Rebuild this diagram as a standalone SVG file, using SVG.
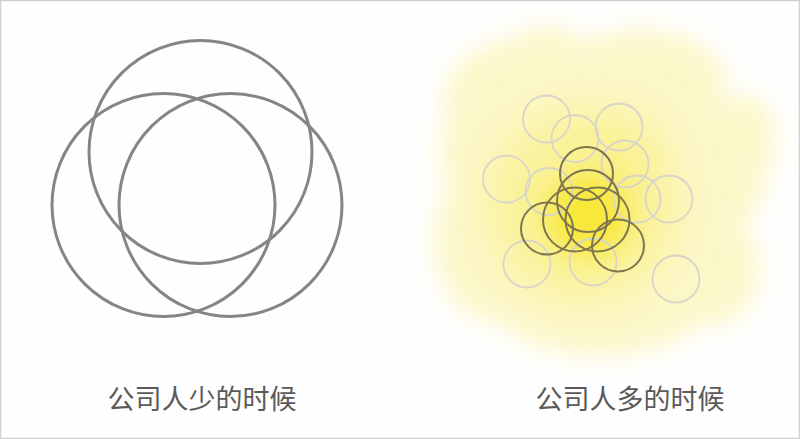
<svg xmlns="http://www.w3.org/2000/svg" width="800" height="439" viewBox="0 0 800 439">
<defs>
<filter id="blurL" x="-30%" y="-30%" width="160%" height="160%"><feGaussianBlur stdDeviation="12"/></filter>
<filter id="blurM" x="-30%" y="-30%" width="160%" height="160%"><feGaussianBlur stdDeviation="20"/></filter>
<filter id="blurS" x="-50%" y="-50%" width="200%" height="200%"><feGaussianBlur stdDeviation="14"/></filter>
</defs>
<style>
.big{fill:none;stroke:#858585;stroke-width:3}
.lt{fill:none;stroke:#d8d5ca;stroke-width:1.8}
.dk{fill:none;stroke:#7d7650;stroke-width:2}
.lbl{font-family:"Noto Sans CJK SC","Liberation Sans",sans-serif;font-size:27px;fill:#5a5a5a;text-anchor:middle}
</style>
<rect x="0" y="0" width="800" height="439" fill="#fefefe"/>
<rect x="0.5" y="0.5" width="799" height="438" fill="none" stroke="#d0d0d0" stroke-width="1.5"/>
<g id="left-diagram">
<circle class="big" cx="200.5" cy="152" r="111.5"/>
<circle class="big" cx="163.5" cy="205" r="111.5"/>
<circle class="big" cx="230.5" cy="205" r="111.5"/>
</g>
<g id="yellow-glow">
<g filter="url(#blurL)" fill="#fcf6c0" opacity="0.85">
<ellipse cx="520" cy="100" rx="75" ry="60"/>
<ellipse cx="640" cy="80" rx="85" ry="50"/>
<ellipse cx="700" cy="170" rx="65" ry="75"/>
<ellipse cx="490" cy="240" rx="55" ry="80"/>
<ellipse cx="600" cy="305" rx="105" ry="50"/>
<ellipse cx="705" cy="270" rx="55" ry="55"/>
<ellipse cx="590" cy="195" rx="125" ry="125"/>
<ellipse cx="545" cy="55" rx="40" ry="28"/>
<ellipse cx="745" cy="140" rx="30" ry="45"/>
<ellipse cx="470" cy="150" rx="30" ry="45"/>
</g>
<g filter="url(#blurM)">
<ellipse cx="582" cy="205" rx="95" ry="95" fill="#faf08a" opacity="0.75"/>
<ellipse cx="620" cy="150" rx="45" ry="40" fill="#faf08a" opacity="0.5"/>
</g>
<g filter="url(#blurS)">
<ellipse cx="588" cy="215" rx="42" ry="42" fill="#f8e62a" opacity="0.85"/>
</g>
</g>
<g id="light-circles">
<circle class="lt" cx="546.5" cy="119" r="23.5"/>
<circle class="lt" cx="575" cy="138.5" r="23.5"/>
<circle class="lt" cx="619" cy="127" r="23.5"/>
<circle class="lt" cx="506.5" cy="179" r="23.5"/>
<circle class="lt" cx="549" cy="191.5" r="23.5"/>
<circle class="lt" cx="625" cy="164" r="23.5"/>
<circle class="lt" cx="637" cy="199" r="23.5"/>
<circle class="lt" cx="669" cy="199" r="23.5"/>
<circle class="lt" cx="527" cy="264" r="23.5"/>
<circle class="lt" cx="593" cy="262" r="23.5"/>
<circle class="lt" cx="676" cy="279" r="23.5"/>
</g>
<g id="dark-circles">
<circle class="dk" cx="586.5" cy="173.5" r="26.5"/>
<circle class="dk" cx="588" cy="201" r="31"/>
<circle class="dk" cx="575" cy="219.5" r="32"/>
<circle class="dk" cx="597.5" cy="219.5" r="32"/>
<circle class="dk" cx="547" cy="228.5" r="26"/>
<circle class="dk" cx="618" cy="245.5" r="26"/>
</g>
<g id="labels">
<text class="lbl" x="202" y="409">公司人少的时候</text>
<text class="lbl" x="630" y="409">公司人多的时候</text>
</g>
</svg>
